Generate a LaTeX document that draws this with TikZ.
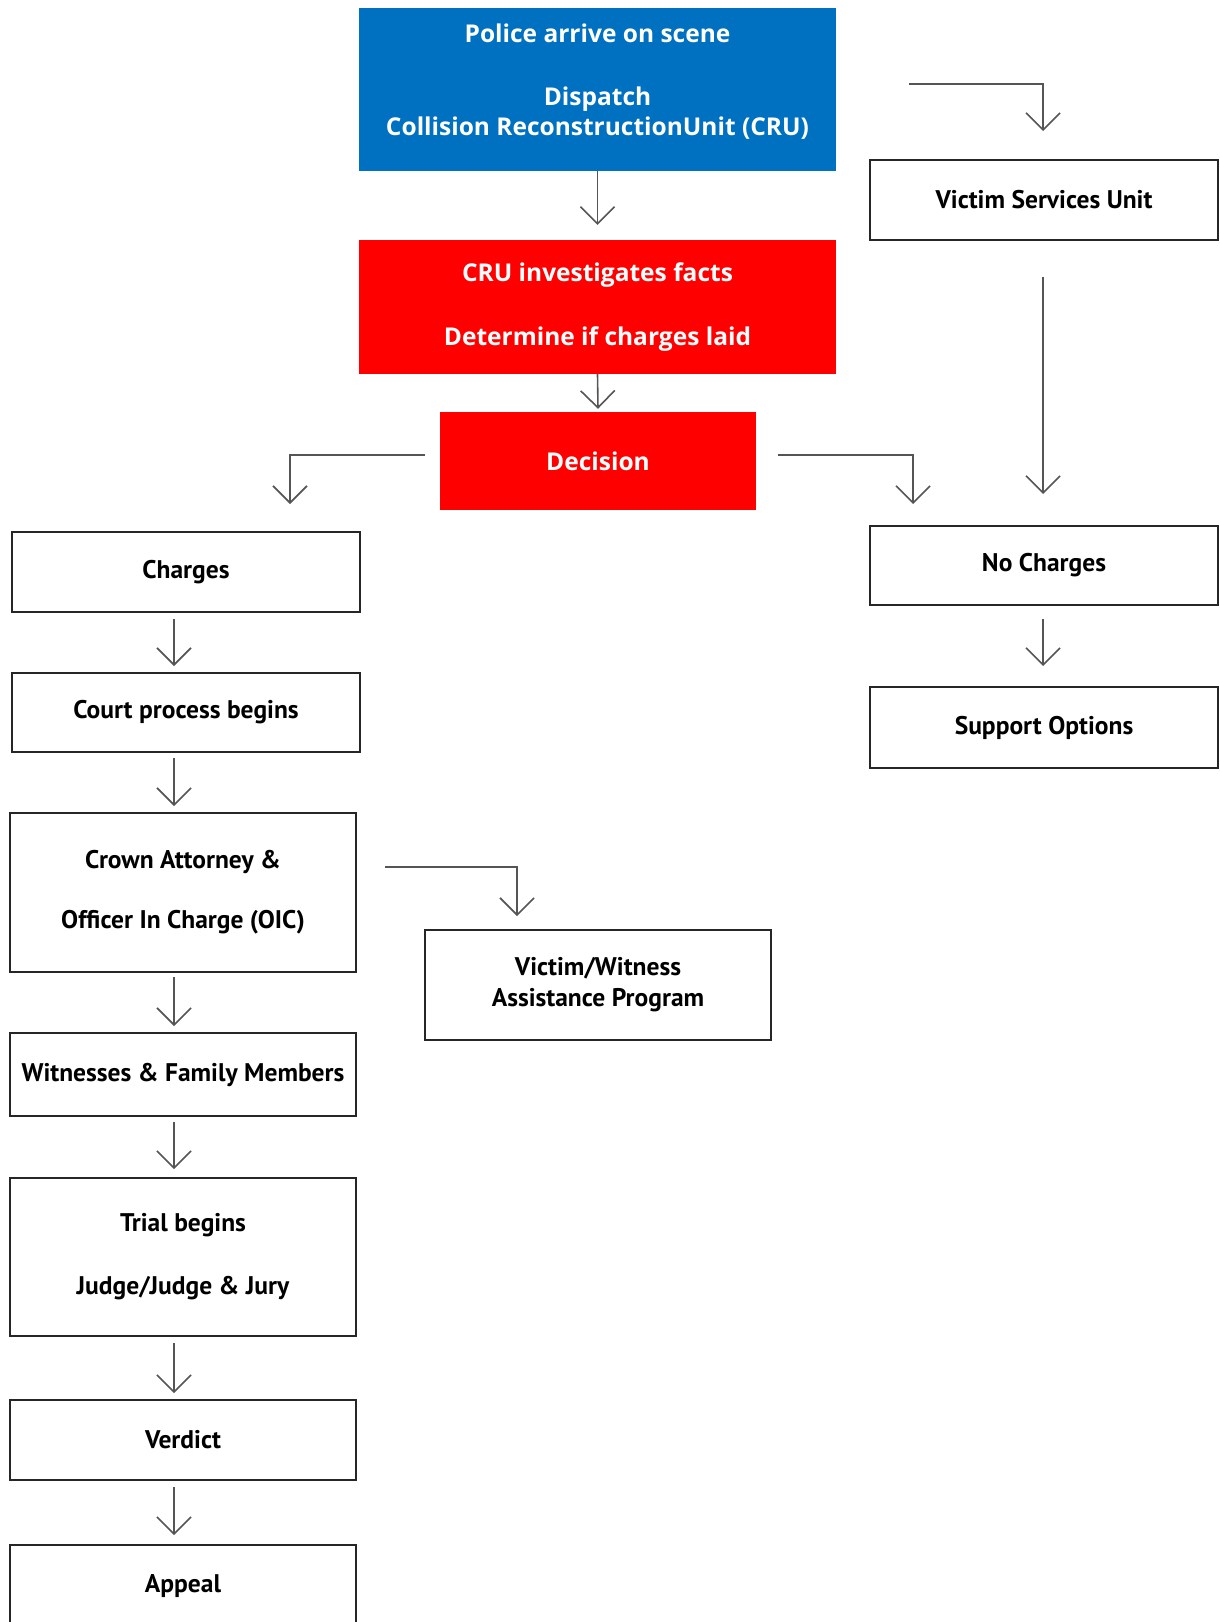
\documentclass[tikz,border=0pt]{standalone}
\usepackage{fontspec}
\setmainfont{PT Sans}
\newfontfamily\whitefont{Open Sans}
\usetikzlibrary{arrows.meta}
\definecolor{cblue}{HTML}{0070C0}
\definecolor{cred}{HTML}{FF0000}
\definecolor{cline}{HTML}{555555}
\tikzset{
  colbox/.style={draw=none, inner sep=0pt, text=white, font=\whitefont\fontsize{24.5}{30}\selectfont\bfseries, align=center},
  bluebox/.style={colbox, fill=cblue},
  redbox/.style={colbox, fill=cred},
  wbox/.style={draw=black!85, line width=2pt, fill=white, inner sep=0pt, font=\fontsize{25.5}{31}\selectfont\bfseries, align=center},
  arr/.style={draw=cline, line width=1.6pt, -{Straight Barb[length=17pt,width=34pt,line width=1.6pt]}},
}
\begin{document}
\begin{tikzpicture}[x=1pt,y=-1pt]
\useasboundingbox (0,0) rectangle (1219,1622);
\clip (0,0) rectangle (1219,1622);
% coloured boxes
\node[bluebox, minimum width=477pt, minimum height=163pt] (blue) at (597.5,89.5)
  {Police arrive on scene\\[33pt]Dispatch\\Collision ReconstructionUnit (CRU)\\[-10pt]\mbox{}};
\node[redbox, minimum width=477pt, minimum height=134pt] (red1) at (597.5,307)
  {CRU investigates facts\\[34pt]Determine if charges laid};
\node[redbox, minimum width=316pt, minimum height=98pt] (dec) at (598,461) {Decision};
% right column
\node[wbox, minimum width=348pt, minimum height=80pt] (vsu) at (1044,200) {Victim Services Unit};
\node[wbox, minimum width=348pt, minimum height=79pt] (noch) at (1044,565.5) {No Charges};
\node[wbox, minimum width=348pt, minimum height=81pt] (supp) at (1044,727.5) {Support Options};
% left column
\node[wbox, minimum width=348pt, minimum height=80pt] (charges) at (186,572) {Charges};
\node[wbox, minimum width=348pt, minimum height=79pt] (court) at (186,712.5) {Court process begins};
\node[wbox, minimum width=346pt, minimum height=159pt] (crown) at (183,892.5)
  {Crown Attorney \&\\[29pt]Officer In Charge (OIC)};
\node[wbox, minimum width=346pt, minimum height=110pt] (vw) at (598,985)
  {Victim/Witness\\Assistance Program};
\node[wbox, minimum width=346pt, minimum height=83pt] (wit) at (183,1074.5) {Witnesses \& Family Members};
\node[wbox, minimum width=346pt, minimum height=158pt] (trial) at (183,1257)
  {Trial begins\\[32pt]Judge/Judge \& Jury};
\node[wbox, minimum width=346pt, minimum height=80pt] (verdict) at (183,1440) {Verdict};
\node[wbox, minimum width=346pt, minimum height=82pt] (appeal) at (183,1586) {Appeal};
% connectors
\draw[arr] (blue.south) -- ([yshift=15pt]red1.north);
\draw[arr] (red1.south) -- ([yshift=3pt]dec.north);
\draw[arr] ([xshift=-15pt,yshift=6pt]dec.west) -| ([xshift=104pt,yshift=27pt]charges.north);
\draw[arr] ([xshift=22pt,yshift=6pt]dec.east) -| ([xshift=-131pt,yshift=21pt]noch.north);
\draw[arr] ([xshift=73pt,yshift=5.5pt]blue.east) -| ([xshift=-1pt,yshift=28pt]vsu.north);
\draw[arr] ([xshift=-1pt,yshift=-36pt]vsu.south) -- ([xshift=-1pt,yshift=31pt]noch.north);
\draw[arr] ([xshift=-1pt,yshift=-13pt]noch.south) -- ([xshift=-1pt,yshift=20pt]supp.north);
\draw[arr] ([xshift=-12pt,yshift=-6pt]charges.south) -- ([xshift=-12pt,yshift=6pt]court.north);
\draw[arr] ([xshift=-12pt,yshift=-5pt]court.south) -- ([xshift=-9pt,yshift=6pt]crown.north);
\draw[arr] ([xshift=-9pt,yshift=-4pt]crown.south) -- ([xshift=-9pt,yshift=6pt]wit.north);
\draw[arr] ([xshift=28pt,yshift=25.5pt]crown.east) -| ([xshift=-81pt,yshift=13pt]vw.north);
\draw[arr] ([xshift=-9pt,yshift=-5pt]wit.south) -- ([xshift=-9pt,yshift=8pt]trial.north);
\draw[arr] ([xshift=-9pt,yshift=-6pt]trial.south) -- ([xshift=-9pt,yshift=6pt]verdict.north);
\draw[arr] ([xshift=-9pt,yshift=-6pt]verdict.south) -- ([xshift=-9pt,yshift=9pt]appeal.north);
\end{tikzpicture}
\end{document}
